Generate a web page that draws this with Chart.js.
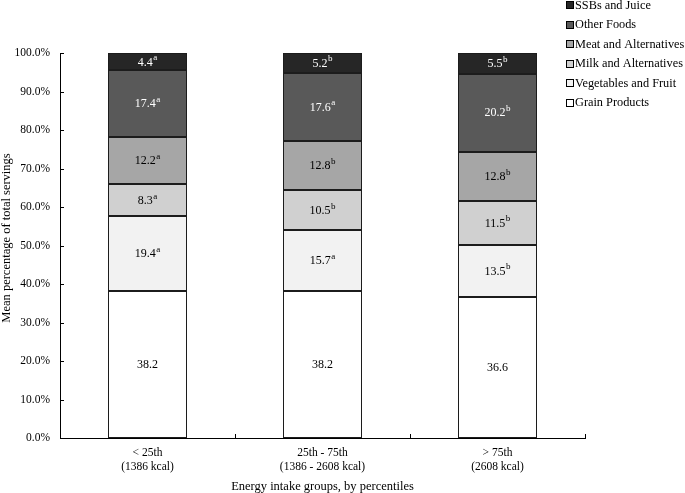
<!DOCTYPE html>
<html>
<head>
<meta charset="utf-8">
<script src="https://cdn.jsdelivr.net/npm/chart.js@4/dist/chart.umd.min.js"></script>
<style>
html,body{margin:0;padding:0;background:#fff;}
#wrap{width:685px;height:493px;position:relative;}
</style>
</head>
<body>
<div id="wrap"><canvas id="c" width="685" height="493"></canvas></div>
<script>
// ---- data ----
const categories = [['< 25th', '(1386 kcal)'], ['25th - 75th', '(1386 - 2608 kcal)'], ['> 75th', '(2608 kcal)']];
const seriesNames = ['Grain Products', 'Vegetables and Fruit', 'Milk and Alternatives', 'Meat and Alternatives', 'Other Foods', 'SSBs and Juice'];
const grainProducts = [38.2, 38.2, 36.6];
const vegetablesFruit = [19.4, 15.7, 13.5];
const milkAlternatives = [8.3, 10.5, 11.5];
const meatAlternatives = [12.2, 12.8, 12.8];
const otherFoods = [17.4, 17.6, 20.2];
const ssbsJuice = [4.4, 5.2, 5.5];
// significance superscripts
const grainSig = ['', '', ''];
const vegSig = ['a', 'a', 'b'];
const milkSig = ['a', 'b', 'b'];
const meatSig = ['a', 'b', 'b'];
const otherSig = ['a', 'a', 'b'];
const ssbSig = ['a', 'b', 'b'];
const yTicks = [0, 10, 20, 30, 40, 50, 60, 70, 80, 90, 100];
const yTitle = 'Mean percentage of total servings';
const xTitle = 'Energy intake groups, by percentiles';

// ---- styles ----
const fills = ['#ffffff', '#f2f2f2', '#d0d0d0', '#a6a6a6', '#595959', '#262626'];
const labelColors = ['#000', '#000', '#000', '#000', '#fff', '#fff'];
const SERIF = '"Liberation Serif", "Times New Roman", serif';

const values = [grainProducts, vegetablesFruit, milkAlternatives, meatAlternatives, otherFoods, ssbsJuice];
const sigs = [grainSig, vegSig, milkSig, meatSig, otherSig, ssbSig];

const datasets = seriesNames.map((n, i) => ({
  label: n,
  data: values[i],
  sig: sigs[i],
  backgroundColor: fills[i],
  borderWidth: 0,
  inflateAmount: 0,
  categoryPercentage: 1,
  barPercentage: 0.446
}));

const customPlugin = {
  id: 'custom',
  afterDatasetsDraw(chart) {
    const ctx = chart.ctx;
    ctx.save();
    // outlines
    ctx.strokeStyle = '#1c1c1c';
    ctx.lineWidth = 1;
    chart.data.datasets.forEach((ds, di) => {
      chart.getDatasetMeta(di).data.forEach(el => {
        const l = Math.round(el.x - el.width / 2) + 0.5;
        const r = Math.round(el.x + el.width / 2) - 0.5;
        const t = Math.round(Math.min(el.y, el.base)) + 0.5;
        const b = Math.round(Math.max(el.y, el.base)) - 0.5;
        ctx.strokeRect(l, t, r - l, b - t);
      });
    });
    // labels
    chart.data.datasets.forEach((ds, di) => {
      const meta = chart.getDatasetMeta(di);
      meta.data.forEach((el, i) => {
        const cx = el.x;
        const cy = (el.y + el.base) / 2;
        const main = ds.data[i].toFixed(1);
        const sup = ds.sig[i];
        ctx.font = '12px ' + SERIF;
        const w1 = ctx.measureText(main).width;
        ctx.font = '9px ' + SERIF;
        const w2 = sup ? ctx.measureText(sup).width + 0.5 : 0;
        const x0 = cx - (w1 + w2) / 2;
        ctx.fillStyle = labelColors[di];
        ctx.textAlign = 'left';
        ctx.textBaseline = 'middle';
        ctx.font = '12px ' + SERIF;
        ctx.fillText(main, x0, cy + 0.5);
        if (sup) {
          ctx.font = '9px ' + SERIF;
          ctx.fillText(sup, x0 + w1 + 0.5, cy - 4);
        }
      });
    });
    ctx.restore();
  },
  afterDraw(chart) {
    const ctx = chart.ctx;
    const area = chart.chartArea;
    const ys = chart.scales.y, xs = chart.scales.x;
    ctx.save();
    ctx.strokeStyle = '#000';
    ctx.lineWidth = 1;
    // inward y ticks
    yTicks.forEach(v => {
      const py = Math.round(ys.getPixelForValue(v)) + 0.5;
      ctx.beginPath();
      ctx.moveTo(area.left, py);
      ctx.lineTo(area.left + 4, py);
      ctx.stroke();
    });
    // inward x category-boundary ticks
    const n = categories.length;
    for (let i = 0; i < n; i++) {
      let px;
      if (i < n - 1) px = (xs.getPixelForValue(i) + xs.getPixelForValue(i + 1)) / 2;
      else px = area.right;
      px = Math.round(px) + 0.5;
      ctx.beginPath();
      ctx.moveTo(px, area.bottom);
      ctx.lineTo(px, area.bottom - 4);
      ctx.stroke();
    }
    // y axis title
    ctx.save();
    ctx.translate(7, 238);
    ctx.rotate(-Math.PI / 2);
    ctx.font = '12.5px ' + SERIF;
    ctx.fillStyle = '#000';
    ctx.textAlign = 'center';
    ctx.textBaseline = 'middle';
    ctx.fillText(yTitle, 0, 0);
    ctx.restore();
    // x axis title
    ctx.font = '12.5px ' + SERIF;
    ctx.fillStyle = '#000';
    ctx.textAlign = 'center';
    ctx.textBaseline = 'middle';
    ctx.fillText(xTitle, (area.left + area.right) / 2, 486.5);
    // legend (reversed order)
    const items = chart.data.datasets.map((d, i) => i).reverse();
    ctx.font = '12.3px ' + SERIF;
    ctx.textBaseline = 'middle';
    ctx.textAlign = 'left';
    items.forEach((di, k) => {
      const cy = 5 + k * 19.5;
      const ds = chart.data.datasets[di];
      ctx.fillStyle = ds.backgroundColor;
      ctx.fillRect(566.5, Math.round(cy) - 3.5, 7, 7);
      ctx.strokeStyle = '#000';
      ctx.strokeRect(566.5, Math.round(cy) - 3.5, 7, 7);
      ctx.fillStyle = '#000';
      ctx.fillText(ds.label, 575, cy + 0.5);
    });
    ctx.restore();
  }
};

new Chart(document.getElementById('c'), {
  type: 'bar',
  data: { labels: categories, datasets },
  options: {
    responsive: false,
    animation: false,
    devicePixelRatio: 1,
    layout: { padding: { left: 0, right: 100, top: 53, bottom: 0 } },
    plugins: { legend: { display: false }, tooltip: { enabled: false } },
    scales: {
      x: {
        stacked: true,
        grid: { display: false },
        border: { display: true, color: '#000', width: 1 },
        ticks: { color: '#000', font: { family: SERIF, size: 11.5, lineHeight: 1.2 }, padding: 0, maxRotation: 0, autoSkip: false },
        afterFit(s) { s.height = 55; }
      },
      y: {
        stacked: true,
        min: 0, max: 100,
        afterBuildTicks(s) { s.ticks = yTicks.map(v => ({ value: v })); },
        grid: { display: false },
        border: { display: true, color: '#000', width: 1 },
        ticks: { color: '#000', font: { family: SERIF, size: 11.5 }, padding: 2, callback: v => v.toFixed(1) + '%' },
        afterFit(s) { s.width = 60; }
      }
    }
  },
  plugins: [customPlugin]
});
</script>
</body>
</html>
